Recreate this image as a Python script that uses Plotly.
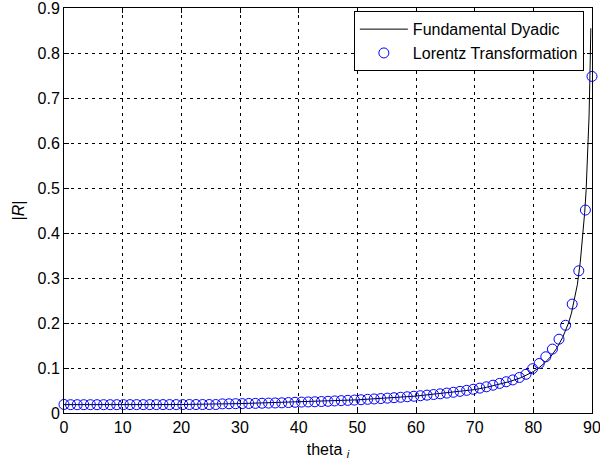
import plotly.graph_objects as go

# Lorentz Transformation markers (theta_i in degrees, |R|)
theta_markers = [0, 1.125, 2.25, 3.375, 4.5, 5.625, 6.75, 7.875, 9, 10.125,
                 11.25, 12.375, 13.5, 14.625, 15.75, 16.875, 18, 19.125, 20.25, 21.375,
                 22.5, 23.625, 24.75, 25.875, 27, 28.125, 29.25, 30.375, 31.5, 32.625,
                 33.75, 34.875, 36, 37.125, 38.25, 39.375, 40.5, 41.625, 42.75, 43.875,
                 45, 46.125, 47.25, 48.375, 49.5, 50.625, 51.75, 52.875, 54, 55.125,
                 56.25, 57.375, 58.5, 59.625, 60.75, 61.875, 63, 64.125, 65.25, 66.375,
                 67.5, 68.625, 69.75, 70.875, 72, 73.125, 74.25, 75.375, 76.5, 77.625,
                 78.75, 79.875, 81, 82.125, 83.25, 84.375, 85.5, 86.625, 87.75, 88.875, 90]
r_markers = [0.0190, 0.0185, 0.0185, 0.0185, 0.0185, 0.0185, 0.0185, 0.0185, 0.0185, 0.0186,
             0.0186, 0.0186, 0.0186, 0.0186, 0.0186, 0.0187, 0.0187, 0.0187, 0.0187, 0.0188,
             0.0188, 0.0188, 0.0188, 0.0188, 0.0203, 0.0205, 0.0207, 0.0209, 0.0212, 0.0214,
             0.0217, 0.0220, 0.0223, 0.0226, 0.0232, 0.0238, 0.0243, 0.0246, 0.0250, 0.0255,
             0.0260, 0.0268, 0.0275, 0.0281, 0.0287, 0.0295, 0.0304, 0.0312, 0.0321, 0.0330,
             0.0340, 0.0350, 0.0361, 0.0372, 0.0384, 0.0397, 0.0411, 0.0426, 0.0443, 0.0461,
             0.0481, 0.0503, 0.0527, 0.0553, 0.0582, 0.0618, 0.0658, 0.0695, 0.0735, 0.0790,
             0.0860, 0.0985, 0.1100, 0.1250, 0.1420, 0.1640, 0.1950, 0.2420, 0.3160, 0.4510,
             0.7480]

# Fundamental Dyadic line
theta_line = [0, 10, 20, 30, 40, 50, 60, 65, 70, 72, 74, 76, 78, 79, 80, 81, 82, 83,
              84, 85, 86, 86.5, 87, 87.5, 88, 88.5, 88.75, 89, 89.25, 89.5, 89.65, 89.8]
r_line = [0.0186, 0.0186, 0.0188, 0.0209, 0.0243, 0.0292, 0.0376, 0.0440, 0.0520, 0.0570,
          0.0630, 0.0700, 0.0790, 0.0850, 0.0920, 0.1010, 0.1120, 0.1260, 0.1440, 0.1680,
          0.2000, 0.2220, 0.2500, 0.2850, 0.3350, 0.4000, 0.4450, 0.4950, 0.5650, 0.6600,
          0.7500, 0.8550]

x_ticks = [0, 10, 20, 30, 40, 50, 60, 70, 80, 90]
y_ticks = [0, 0.1, 0.2, 0.3, 0.4, 0.5, 0.6, 0.7, 0.8, 0.9]
y_tick_labels = ["0", "0.1", "0.2", "0.3", "0.4", "0.5", "0.6", "0.7", "0.8", "0.9"]

FONT = "Liberation Sans, Arial, Helvetica, sans-serif"

fig = go.Figure()
fig.add_trace(go.Scatter(
    x=theta_line, y=r_line, mode="lines", name="Fundamental Dyadic",
    line=dict(color="black", width=1),
    cliponaxis=False,
))
fig.add_trace(go.Scatter(
    x=theta_markers, y=r_markers, mode="markers", name="Lorentz Transformation",
    marker=dict(symbol="circle-open", size=10, color="#0000ff", line=dict(width=1, color="#0000ff")),
    cliponaxis=False,
))

axis_common = dict(
    showline=True, linecolor="black", linewidth=1, mirror="ticks",
    ticks="inside", ticklen=5, tickcolor="black", tickwidth=1,
    showgrid=True, gridcolor="black", gridwidth=1, griddash="3px,4px",
    zeroline=False, ticklabeloverflow="allow",
    tickfont=dict(family=FONT, size=16, color="black"),
)

fig.update_xaxes(
    range=[0, 90], tickvals=x_ticks, ticktext=[str(v) for v in x_ticks],
    title=dict(text="theta <sub><i>i</i></sub>", font=dict(family=FONT, size=16, color="black"), standoff=8),
    **axis_common,
)
fig.update_yaxes(
    range=[0, 0.9], tickvals=y_ticks, ticktext=y_tick_labels,
    title=dict(text="|<i>R</i>|", font=dict(family=FONT, size=16, color="black"), standoff=8),
    **axis_common,
)

fig.update_layout(
    width=600, height=465,
    margin=dict(l=64, r=8, t=8, b=52, autoexpand=False),
    paper_bgcolor="white", plot_bgcolor="white",
    font=dict(family=FONT, size=16, color="black"),
    showlegend=True,
    legend=dict(
        x=0.549, y=0.992, xanchor="left", yanchor="top",
        bgcolor="white", bordercolor="black", borderwidth=1,
        font=dict(family=FONT, size=16, color="black"),
        itemwidth=48, tracegroupgap=0,
    ),
)

fig.write_html(
    "out.html",
    config={"displayModeBar": False},
    post_script="document.body.style.margin='0';document.body.style.padding='0';document.body.style.overflow='hidden';",
)
